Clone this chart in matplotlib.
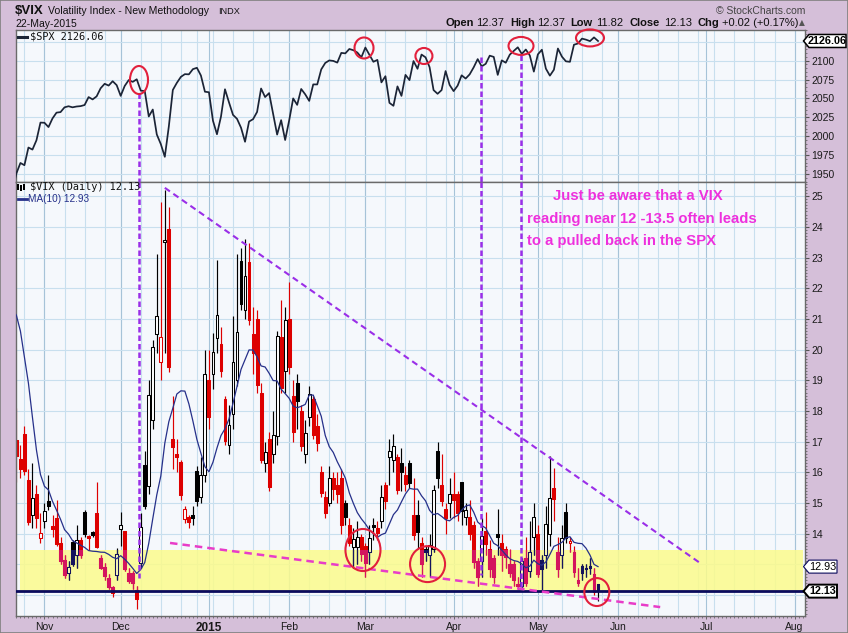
import numpy as np
import pandas as pd
import matplotlib
matplotlib.use("Agg")
import matplotlib.pyplot as plt
from matplotlib.patches import Rectangle, Ellipse, Polygon
from matplotlib.collections import LineCollection, PatchCollection

# ------------------------------------------------------------------ data
start_date = "2014-10-22"
end_date = "2015-08-05"
market_holidays = ["2014-11-27", "2014-12-25", "2015-01-01", "2015-01-19",
                   "2015-02-16", "2015-04-03", "2015-05-25", "2015-07-03"]

spx_close = [
    1927.11, 1950.82, 1964.58, 1961.63, 1985.05, 1982.30, 1994.65, 2018.05,
    2017.81, 2012.10, 2023.57, 2031.21, 2031.92, 2038.26, 2039.68, 2038.25, 2039.33, 2039.82,
    2041.32, 2051.80, 2048.72, 2052.75, 2063.50, 2069.41, 2067.03, 2072.83, 2067.56,
    2053.44, 2066.55, 2074.33, 2071.92, 2075.37, 2060.31, 2059.82, 2026.14, 2035.33, 2002.33,
    1989.63, 1972.74, 2012.89, 2061.23, 2070.65, 2078.54, 2082.17, 2081.88, 2088.77, 2090.57,
    2080.35, 2058.90,
    2058.20, 2020.58, 2002.61, 2025.90, 2062.14, 2044.81, 2028.26, 2023.03, 2011.27, 1992.67,
    2019.42, 2022.55, 2032.12, 2063.15, 2051.82, 2057.09, 2029.55, 2002.16, 2021.25, 1994.99,
    2020.85, 2050.03, 2041.51, 2062.52, 2055.47, 2046.74, 2068.59, 2068.53, 2088.48, 2096.99,
    2100.34, 2099.68, 2097.45, 2110.30, 2109.66, 2115.48, 2113.86, 2110.74, 2104.50,
    2117.39, 2107.78, 2098.53, 2101.04, 2071.26, 2079.43, 2044.16, 2040.24, 2065.95, 2053.40,
    2081.19, 2074.28, 2099.50, 2089.27, 2108.10, 2104.42, 2091.50, 2061.05, 2056.15, 2061.02,
    2086.24, 2067.89,
    2059.69, 2066.96, 2080.62, 2076.33, 2081.90, 2091.18, 2102.06, 2092.43, 2095.84, 2106.63,
    2104.99, 2081.18, 2100.40, 2097.29, 2107.96, 2112.93, 2117.69, 2108.92, 2114.76, 2106.85,
    2085.51,
    2108.29, 2114.49, 2089.46, 2080.15, 2088.00, 2116.10, 2105.33, 2099.12, 2098.48, 2121.10,
    2122.73, 2129.20, 2127.83, 2125.85, 2130.82, 2126.06,
]

vix_open = [
    16.40, 17.05, 16.45, 17.25, 15.75, 14.60, 15.30, 13.85, 14.40, 15.08,
    14.25, 14.50, 13.69, 13.15, 12.72, 13.74, 13.31, 13.80, 14.72, 13.92,
    14.05, 14.66, 13.20, 12.93, 12.55, 12.28, 12.66, 14.15, 14.10, 12.72,
    12.72, 12.17, 13.04, 16.25, 15.54, 17.70, 20.50, 19.61, 23.50, 23.92,
    17.10, 16.61, 16.35, 14.47, 14.56, 14.60, 16.03, 15.20, 15.90, 19.00,
    19.19, 20.37, 20.17, 18.40, 16.90, 17.90, 19.00, 22.90, 21.30, 22.86,
    20.50, 21.00, 18.60, 16.30, 17.10, 16.60, 17.20, 20.40, 19.30, 21.00,
    18.50, 18.90, 18.00, 16.60, 17.80, 18.40, 17.50, 16.00, 15.20, 15.00,
    15.80, 15.60, 15.80, 15.00, 14.30, 13.58, 13.58, 13.90, 13.60, 13.40,
    14.30, 14.20, 14.40, 15.60, 16.50, 16.40, 16.50, 16.30, 15.90, 16.30,
    14.60, 14.60, 13.70, 13.50, 13.30, 13.50, 16.70, 15.60, 14.80, 15.00,
    15.30, 15.30, 15.70, 14.55, 14.55, 14.30, 13.10, 13.10, 14.10, 13.50,
    13.20, 14.00, 13.70, 13.50, 13.00, 13.00, 12.35, 12.30, 13.20, 12.80,
    13.90, 14.00, 13.15, 13.30, 14.00, 15.50, 13.40, 13.30, 14.70, 13.70,
    13.40, 12.50, 12.95, 12.90, 12.95, 12.70, 12.37,
]
vix_high = [
    18.00, 18.10, 16.90, 17.50, 16.10, 16.30, 15.60, 14.66, 15.00, 15.90,
    14.60, 15.10, 13.90, 13.30, 13.10, 13.80, 14.30, 13.90, 14.77, 13.95,
    14.10, 15.70, 13.30, 13.05, 12.70, 12.30, 13.55, 14.70, 14.10, 12.90,
    12.80, 12.30, 14.66, 16.70, 19.00, 20.30, 23.10, 24.80, 25.20, 24.65,
    18.50, 17.10, 16.40, 14.90, 14.60, 14.90, 16.20, 16.50, 20.00, 20.00,
    20.55, 22.92, 20.74, 18.50, 18.20, 21.10, 23.10, 23.30, 23.60, 23.47,
    21.40, 21.30, 18.90, 17.00, 17.30, 18.00, 20.60, 21.60, 21.40, 22.20,
    19.00, 19.20, 18.20, 17.70, 18.80, 18.50, 17.90, 16.20, 15.40, 16.20,
    16.00, 16.00, 16.10, 15.10, 14.50, 14.20, 14.40, 14.00, 13.70, 14.30,
    14.50, 14.40, 15.60, 15.70, 17.10, 17.25, 16.60, 16.80, 16.20, 16.40,
    15.80, 15.10, 13.90, 13.60, 14.00, 15.60, 17.00, 16.60, 15.00, 15.80,
    16.00, 15.40, 15.70, 15.00, 15.10, 14.40, 13.20, 14.50, 14.70, 13.80,
    13.30, 14.80, 14.00, 13.60, 13.50, 13.10, 12.60, 13.20, 13.90, 14.40,
    15.00, 14.30, 13.30, 14.90, 16.53, 16.15, 13.90, 14.30, 15.00, 13.90,
    13.60, 12.90, 13.00, 13.00, 13.20, 12.90, 12.37,
]
vix_low = [
    15.90, 15.70, 15.80, 15.90, 14.30, 14.20, 14.20, 13.69, 14.20, 14.78,
    13.90, 13.60, 13.00, 12.55, 12.50, 12.95, 12.90, 13.20, 13.90, 13.47,
    13.90, 13.55, 12.85, 12.50, 12.20, 11.95, 12.50, 13.60, 12.80, 12.40,
    12.20, 11.55, 12.88, 14.80, 15.30, 17.40, 19.90, 19.00, 19.90, 19.28,
    16.10, 16.00, 15.10, 14.35, 14.20, 14.30, 14.90, 15.00, 15.70, 17.40,
    18.70, 19.90, 19.10, 16.90, 16.60, 17.40, 18.80, 21.30, 21.00, 20.80,
    19.20, 18.60, 16.30, 16.00, 15.40, 16.30, 16.90, 18.60, 18.60, 19.20,
    17.00, 17.40, 16.70, 16.30, 17.50, 17.10, 16.70, 15.20, 14.50, 14.90,
    15.10, 15.00, 14.00, 14.30, 13.60, 12.90, 13.00, 13.10, 12.60, 13.00,
    13.80, 13.80, 14.20, 14.80, 15.60, 16.00, 15.30, 15.40, 15.40, 15.50,
    13.80, 13.50, 12.60, 13.10, 12.60, 13.40, 15.50, 14.90, 14.00, 14.50,
    14.50, 14.40, 14.30, 14.30, 13.80, 12.90, 12.30, 12.60, 13.30, 12.60,
    12.40, 13.30, 12.80, 12.90, 12.60, 12.30, 12.20, 12.20, 12.30, 12.60,
    13.30, 12.60, 12.10, 12.90, 13.60, 14.40, 12.60, 12.90, 13.70, 13.40,
    12.60, 12.30, 12.50, 12.60, 12.70, 12.00, 11.82,
]
vix_close = [
    17.87, 16.53, 16.11, 16.04, 14.39, 15.15, 14.52, 14.03, 14.73, 14.89,
    14.17, 13.67, 13.12, 12.67, 12.92, 13.02, 13.79, 13.31, 13.99, 13.86,
    13.96, 13.58, 12.90, 12.62, 12.25, 12.07, 13.33, 14.29, 12.85, 12.47,
    12.38, 11.89, 14.21, 14.89, 18.53, 20.08, 21.08, 20.42, 23.57, 19.44,
    16.81, 16.49, 15.25, 14.80, 14.37, 14.50, 15.06, 15.92, 19.20, 17.79,
    19.92, 21.12, 19.31, 17.01, 17.55, 19.60, 20.56, 21.48, 22.39, 20.95,
    19.89, 18.85, 16.40, 16.66, 15.52, 17.22, 20.44, 18.76, 20.97, 19.43,
    17.33, 18.33, 16.85, 17.29, 18.55, 17.23, 16.96, 15.34, 14.69, 15.80,
    15.45, 15.29, 14.30, 14.56, 13.69, 13.84, 13.91, 13.34, 13.04, 13.86,
    14.23, 14.04, 15.20, 15.06, 16.69, 16.87, 15.42, 16.00, 15.61, 15.66,
    13.97, 14.07, 13.02, 13.41, 13.62, 15.44, 15.80, 15.07, 14.51, 15.29,
    15.11, 14.67, 14.74, 14.78, 13.98, 13.09, 12.58, 13.94, 13.67, 12.84,
    12.60, 13.89, 13.30, 13.25, 12.71, 12.48, 12.29, 13.12, 12.41, 13.39,
    14.55, 12.70, 12.85, 14.31, 15.15, 15.13, 12.86, 13.85, 13.86, 13.76,
    12.74, 12.38, 12.73, 12.85, 12.88, 12.11, 12.13,
]
# closes of the nine sessions before the window (needed for the 10-day average)
vix_close_prior = [18.76, 21.24, 24.64, 22.79, 26.25, 25.20, 21.99, 18.57, 16.08]
ma_period = 10

spx_ticks = [1950, 1975, 2000, 2025, 2050, 2075, 2100]
vix_ticks = list(range(12, 26))
vix_hidden_labels = [12, 13]          # covered by the value tags in the original
highlight_low, highlight_high = 12.13, 13.47
note_lines = ["Just be aware that a VIX", "reading near 12 -13.5 often leads",
              "to a pulled back in the SPX"]

# ------------------------------------------------------------------ style
W, H = 848, 633
BG = "#d5bfd9"
PLOT_BG = "#f5f8fc"
GRID = "#c8dfee"
GRID_M = "#a6c3d8"
UP, DN = "#000000", "#dd0000"
UP_B, DN_B = "#14145e", "#d4145e"
NAVY = "#0a0a5c"
MAC = "#26308a"
PURPLE = "#9a2ee8"
MAGENTA = "#e83cc8"
CIRCLE = "#e2203c"
NOTE = "#ee30dd"

plt.rcParams['font.family'] = ['Liberation Sans', 'DejaVu Sans']

fig = plt.figure(figsize=(W / 100, H / 100), dpi=100, facecolor=BG)


def fx(px):
    return px / W


def fy(py):
    return 1 - py / H


ax_top = fig.add_axes([fx(16), fy(182), fx(805) - fx(16), fy(30) - fy(182)])
ax_bot = fig.add_axes([fx(16), fy(616), fx(805) - fx(16), fy(182) - fy(616)])

dates = pd.bdate_range(start_date, end_date, freq="C", holidays=market_holidays)
n = len(vix_close)
xs = np.arange(n)
xlim = (0.9, len(dates) - 0.4)

month_idx = [i for i in range(1, len(dates)) if dates[i].month != dates[i - 1].month]
week_idx = [i for i in range(1, len(dates)) if dates[i].weekday() < dates[i - 1].weekday()]
month_lab = [str(dates[i].year) if dates[i].month == 1 else dates[i].strftime("%b") for i in month_idx]

for ax in (ax_top, ax_bot):
    ax.set_facecolor(PLOT_BG)
    ax.set_xlim(*xlim)
    for s in ax.spines.values():
        s.set_color("#6a6a6a")
        s.set_linewidth(1.0)
    for i in week_idx:
        ax.axvline(i, color=GRID, lw=0.8, zorder=0.5)
    for i in month_idx:
        ax.axvline(i, color=GRID_M, lw=0.8, zorder=0.5)
    ax.yaxis.tick_right()
    ax.tick_params(axis='y', which='major', length=3, width=0.8, color="#555555",
                   labelsize=7.5, pad=1.5, labelcolor="#1a1a1a")
    ax.tick_params(axis='y', which='minor', length=1.5, width=0.5, color="#555555")

# ---------------- top panel: SPX
ax_top.set_ylim(1939.4, 2140.6)
ax_top.set_yticks(spx_ticks)
ax_top.set_yticks(np.arange(1940, 2141, 5), minor=True)
for v in spx_ticks + [2125]:
    ax_top.axhline(v, color=GRID, lw=0.8, zorder=0.5)
ax_top.set_xticks([])
ax_top.plot(xs, spx_close, color="#1b2436", lw=1.25, zorder=3)

# ---------------- bottom panel: VIX
ax_bot.set_ylim(11.32, 25.46)
ax_bot.set_yticks(vix_ticks)
ax_bot.set_yticklabels(["" if v in vix_hidden_labels else str(v) for v in vix_ticks])
ax_bot.set_yticks(np.arange(11.4, 25.45, 0.1), minor=True)
for v in vix_ticks:
    ax_bot.axhline(v, color=GRID, lw=0.8, zorder=0.5)
ax_bot.set_xticks(month_idx)
ax_bot.set_xticklabels(month_lab)
ax_bot.set_xticks(np.arange(1, len(dates)), minor=True)
ax_bot.tick_params(axis='x', which='major', length=2.5, width=0.6, color="#555555",
                   labelsize=7.5, pad=2, labelcolor="#1a1a1a")
ax_bot.tick_params(axis='x', which='minor', length=1.5, width=0.5, color="#555555")
for t, lab in zip(ax_bot.get_xticklabels(), month_lab):
    if lab.isdigit():
        t.set_fontweight("bold")
        t.set_fontsize(8.5)

band = Rectangle((1.9, highlight_low), 195.2, highlight_high - highlight_low,
                 facecolor="#fbfb8c", alpha=0.85, edgecolor="none", zorder=0.7)
ax_bot.add_patch(band)
band_clip = Rectangle((xlim[0], highlight_low - 0.02), xlim[1] - xlim[0],
                      highlight_high - highlight_low + 0.02, transform=ax_bot.transData)

BW = 0.72


def draw_candles(ax, up_col, dn_col, hollow_col, clip=None, z=2.0):
    segs, cols, rects = [], [], []
    for i in range(n):
        o, h, l, c = vix_open[i], vix_high[i], vix_low[i], vix_close[i]
        prev = vix_close[i - 1] if i > 0 else vix_close_prior[-1]
        col = up_col if c >= prev else dn_col
        segs.append([(i, l), (i, h)])
        cols.append(col)
        lo, hi = min(o, c), max(o, c)
        hi = max(hi, lo + 0.03)
        filled = c < o
        rects.append(Rectangle((i - BW / 2, lo), BW, hi - lo,
                               facecolor=col if filled else hollow_col,
                               edgecolor=col, linewidth=0.75))
    lc = LineCollection(segs, colors=cols, linewidths=0.85, zorder=z)
    pc = PatchCollection(rects, match_original=True, zorder=z + 0.01)
    ax.add_collection(lc)
    ax.add_collection(pc)
    if clip is not None:
        lc.set_clip_path(clip)
        pc.set_clip_path(clip)


draw_candles(ax_bot, UP, DN, "#ffffff", z=2.0)
draw_candles(ax_bot, UP_B, DN_B, "#f8f8b4", clip=band_clip, z=2.2)

ma = pd.Series(vix_close_prior + vix_close).rolling(ma_period).mean().to_numpy()[len(vix_close_prior):]
ax_bot.plot(xs, ma, color=MAC, lw=0.9, zorder=3)
ax_bot.axhline(vix_close[-1], color=NAVY, lw=2.0, zorder=3.5)

# ---------------- hand-drawn annotations
ax_bot.plot([38.0, 171.4], [25.27, 13.05], color=PURPLE, lw=1.5, ls=(0, (3, 2)), zorder=4)
ax_bot.plot([39.3, 161.5], [13.70, 11.61], color=MAGENTA, lw=1.8, ls=(0, (3, 2)), zorder=4)
for xv, spx_v, vix_v in [(31.56, 2057, 12.55), (116.8, 2105, 12.65), (126.9, 2107.5, 12.26)]:
    ax_top.plot([xv, xv], [spx_v, 1939.4], color=PURPLE, lw=1.8, ls=(0, (2.2, 1.2)), zorder=4,
                clip_on=False)
    ax_bot.plot([xv, xv], [25.46, vix_v], color=PURPLE, lw=1.8, ls=(0, (2.2, 1.2)), zorder=4,
                clip_on=False)

for cx, cy, w, h in [(31.56, 2074.4, 4.49, 37.1), (87.66, 2116.8, 4.74, 27.8),
                     (102.6, 2106.2, 4.24, 21.2), (126.8, 2119.5, 6.23, 23.8),
                     (144.0, 2130.1, 6.98, 22.5)]:
    ax_top.add_patch(Ellipse((cx, cy), w, h, facecolor="none", edgecolor=CIRCLE, lw=1.5,
                             zorder=5, clip_on=False))
for cx, cy, w, h in [(87.4, 13.47, 8.73, 1.37), (103.5, 13.01, 8.73, 1.17),
                     (145.7, 12.10, 6.23, 0.91)]:
    ax_bot.add_patch(Ellipse((cx, cy), w, h, facecolor="none", edgecolor=CIRCLE, lw=1.5,
                             zorder=5))

for (px, py), s in zip([(553, 196), (527, 219), (527, 241)], note_lines):
    fig.text(fx(px), fy(py), s, color=NOTE, fontsize=10.7, fontweight="bold",
             ha="left", va="center", zorder=6)

# ---------------- header
fig.text(fx(15), fy(11), "$VIX", fontsize=9.5, fontweight="bold", va="center", color="#111111")
fig.text(fx(48), fy(11), "Volatility Index - New Methodology", fontsize=7.6, va="center",
         color="#111111")
fig.text(fx(218), fy(11.5), "INDX", fontsize=6.6, va="center", color="#111111")
fig.text(fx(15), fy(24), "22-May-2015", fontsize=7.5, va="center", color="#111111")
fig.text(fx(805), fy(10.5), "\u00a9 StockCharts.com", fontsize=7.5, va="center", ha="right",
         color="#444444")
hdr = [(445, "Open", True), (476, "12.37", False), (510, "High", True), (537, "12.37", False),
       (570, "Low", True), (596, "11.82", False), (630, "Close", True), (664, "12.13", False),
       (697, "Chg", True), (722, "+0.02 (+0.17%)", False)]
for px, s, b in hdr:
    fig.text(fx(px), fy(23.5), s, fontsize=8, fontweight="bold" if b else "normal",
             va="center", color="#111111")
fig.text(fx(801.5), fy(23), "\u25b2", fontsize=5.5, va="center", ha="center", color="#555555",
         family="DejaVu Sans")

# ---------------- legends
fig.add_artist(plt.Line2D([fx(18), fx(27)], [fy(36.5), fy(36.5)], color="#1b2436", lw=2.2))
fig.text(fx(30), fy(36.5), "$SPX 2126.06", fontsize=7.4, va="center", family="DejaVu Sans Mono",
         color="#111111")
for dx, col, y0, y1 in [(18, "#000000", 183.5, 190), (21, "#000000", 185, 191), (24, "#000000", 184, 189.5)]:
    fig.add_artist(Rectangle((fx(dx - 0.9), fy(y1)), 1.8 / W, (y1 - y0) / H, facecolor=col,
                             edgecolor="none"))
fig.text(fx(30), fy(187), "$VIX (Daily) 12.13", fontsize=7.4, va="center",
         family="DejaVu Sans Mono", color="#111111")
fig.add_artist(plt.Line2D([fx(18), fx(27)], [fy(199), fy(199)], color=MAC, lw=2.0))
fig.text(fx(28.5), fy(199.3), "MA(10) 12.93", fontsize=7.2, va="center", color=MAC)


# ---------------- value tags on the right
def value_tag(ax, v, label, bold, lw, edge):
    fig.canvas.draw()
    yp = H - ax.transData.transform((0, v))[1]
    tip, bl, br, hh = 803.5, 809, 846 if bold and len(label) > 5 else 837, 6.5
    pts = [(tip, yp), (bl, yp - hh), (br, yp - hh), (br, yp + hh), (bl, yp + hh)]
    fig.add_artist(Polygon([(fx(a), fy(b)) for a, b in pts], closed=True, facecolor="white",
                           edgecolor=edge, lw=lw, zorder=5))
    fig.text(fx((bl + br) / 2 - 0.5), fy(yp), label, fontsize=7.8,
             fontweight="bold" if bold else "normal", ha="center", va="center",
             color="#000000", zorder=6)


value_tag(ax_top, spx_close[-1], f"{spx_close[-1]:.2f}", True, 1.1, "#000000")
value_tag(ax_bot, ma[-1], f"{ma[-1]:.2f}", False, 0.8, NAVY)
value_tag(ax_bot, vix_close[-1], f"{vix_close[-1]:.2f}", True, 1.4, "#000000")

fig.add_artist(Rectangle((0, 0), 1, 1, transform=fig.transFigure, facecolor="none",
                         edgecolor="#808080", lw=1.2))

fig.savefig("out.png", dpi=100, facecolor=BG)
